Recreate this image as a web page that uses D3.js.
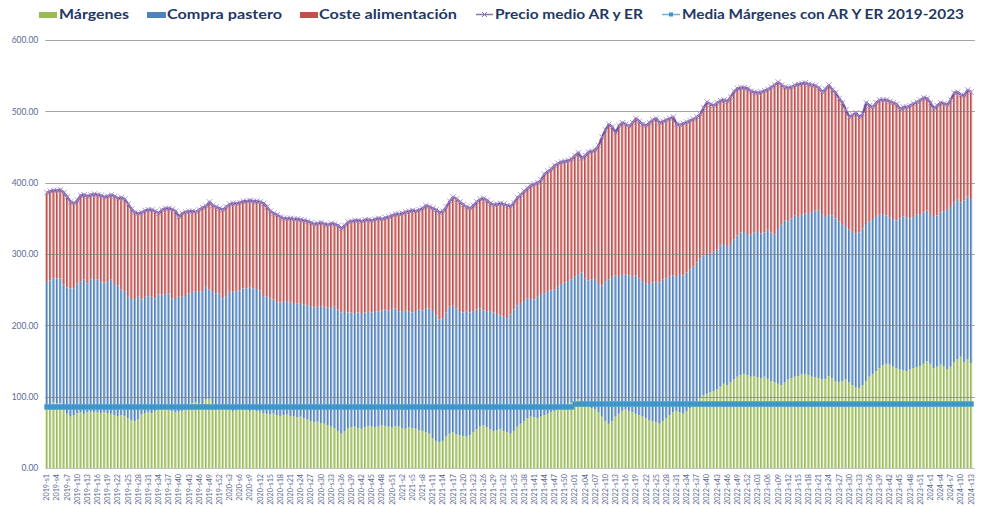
<!DOCTYPE html>
<html>
<head>
<meta charset="utf-8">
<script src="https://cdn.jsdelivr.net/npm/d3@7"></script>
<style>
  html, body { margin: 0; padding: 0; background: #ffffff; }
  svg { display: block; }
</style>
</head>
<body>
<svg id="chart" width="982" height="507"></svg>
<script>
// Weeks per year: [year, number of weeks, zero-padded week label]
const years = [[2019, 52, false], [2020, 52, false], [2021, 52, false], [2022, 52, true], [2023, 53, true], [2024, 13, false]];

// Weekly category labels (2019-s1 ... 2024-s13)
const categories = [];
years.forEach(([yr, n, pad]) => {
  for (let w = 1; w <= n; w++) categories.push(`${yr}-s${pad ? String(w).padStart(2, "0") : w}`);
});

// Precio medio AR y ER (€/t)
const precioMedio = [
  // 2019
  386, 388, 389, 389, 390, 386, 380, 373, 371, 375, 382, 383, 381, 383, 384, 383, 382, 380, 381, 383,
  381, 378, 379, 377, 370, 363, 358, 357, 358, 361, 362, 362, 360, 357, 362, 364, 364, 363, 360, 352,
  357, 359, 360, 360, 359, 362, 365, 367, 373, 368, 366, 364,
  // 2020
  362, 366, 370, 371, 371, 372, 374, 374, 375, 374, 374, 373, 371, 366, 360, 357, 355, 352, 350, 350,
  350, 349, 349, 348, 347, 346, 344, 342, 343, 344, 342, 341, 343, 342, 340, 336, 340, 345, 346, 347,
  347, 346, 348, 348, 347, 349, 350, 349, 351, 352, 354, 356,
  // 2021
  356, 357, 359, 360, 361, 360, 362, 364, 368, 366, 364, 362, 358, 360, 366, 374, 380, 377, 373, 369,
  366, 364, 368, 373, 377, 378, 375, 371, 369, 370, 371, 370, 368, 367, 372, 379, 383, 388, 392, 396,
  398, 400, 404, 412, 416, 419, 424, 427, 429, 430, 431, 433,
  // 2022
  438, 442, 434, 438, 443, 444, 446, 452, 464, 474, 482, 478, 470, 480, 484, 482, 479, 484, 490, 486,
  482, 480, 484, 488, 490, 484, 486, 488, 490, 492, 482, 481, 483, 485, 487, 489, 492, 496, 505, 513,
  510, 508, 512, 515, 516, 514, 520, 528, 532, 533, 533, 532,
  // 2023
  528, 527, 526, 527, 529, 531, 534, 537, 541, 537, 534, 533, 534, 537, 538, 539, 540, 538, 537, 536,
  533, 527, 531, 537, 530, 526, 518, 512, 502, 492, 495, 498, 492, 496, 512, 508, 506, 512, 516, 516,
  516, 514, 512, 510, 503, 506, 506, 508, 511, 513, 516, 519, 518,
  // 2024
  512, 504, 508, 512, 511, 509, 516, 526, 527, 523, 522, 530, 527
];

// Márgenes
const margenes = [
  // 2019
  86, 87, 92, 91, 91, 84, 76, 72, 74, 77, 78, 76, 78, 79, 78, 78, 77, 78, 77, 76,
  74, 73, 74, 73, 70, 67, 66, 68, 75, 77, 78, 77, 80, 82, 83, 84, 83, 80, 78, 79,
  80, 82, 85, 91, 92, 90, 88, 96, 97, 90, 87, 86,
  // 2020
  84, 85, 82, 80, 81, 82, 83, 82, 80, 81, 80, 79, 77, 76, 75, 76, 74, 73, 74, 75,
  73, 72, 71, 72, 70, 68, 66, 64, 65, 63, 62, 60, 58, 56, 52, 48, 52, 56, 57, 58,
  56, 55, 57, 59, 58, 57, 58, 60, 59, 58, 57, 59,
  // 2021
  58, 56, 55, 57, 56, 55, 53, 52, 50, 48, 42, 38, 36, 38, 44, 48, 50, 47, 46, 45,
  44, 46, 50, 54, 58, 60, 57, 54, 52, 53, 55, 52, 50, 48, 52, 58, 62, 66, 70, 72,
  71, 70, 72, 74, 76, 78, 80, 83, 86, 88, 90, 92,
  // 2022
  94, 96, 92, 88, 86, 84, 82, 78, 72, 66, 62, 66, 72, 76, 80, 82, 80, 78, 76, 74,
  72, 70, 67, 66, 64, 62, 66, 70, 74, 78, 80, 78, 76, 80, 84, 88, 94, 98, 102, 104,
  106, 108, 110, 114, 118, 116, 120, 124, 128, 130, 132, 130,
  // 2023
  128, 129, 127, 126, 128, 125, 122, 120, 118, 116, 120, 124, 126, 128, 129, 131, 132, 130, 128, 127,
  126, 124, 125, 129, 126, 122, 120, 122, 124, 120, 116, 113, 112, 116, 122, 128, 132, 136, 140, 144,
  146, 145, 142, 140, 138, 137, 136, 138, 140, 141, 143, 146, 150,
  // 2024
  146, 140, 142, 145, 143, 138, 142, 148, 152, 156, 148, 152, 147
];

// Compra pastero
const compraPastero = [
  // 2019
  175, 176, 174, 175, 175, 173, 177, 180, 178, 182, 184, 188, 181, 185, 187, 186, 185, 182, 184, 188,
  184, 183, 176, 175, 170, 170, 171, 172, 161, 163, 163, 163, 158, 161, 160, 160, 162, 158, 159, 161,
  160, 159, 160, 156, 155, 158, 159, 158, 153, 158, 158, 159,
  // 2020
  154, 155, 165, 167, 167, 167, 169, 170, 173, 171, 171, 170, 164, 164, 163, 160, 159, 159, 159, 159,
  159, 158, 160, 158, 159, 160, 161, 161, 161, 164, 164, 165, 166, 170, 170, 170, 168, 162, 161, 159,
  162, 161, 161, 160, 160, 163, 161, 161, 163, 163, 166, 165,
  // 2021
  161, 164, 166, 162, 162, 165, 169, 169, 173, 176, 178, 176, 172, 172, 174, 178, 178, 177, 174, 173,
  175, 172, 170, 168, 166, 161, 162, 166, 166, 163, 159, 160, 160, 167, 170, 170, 168, 168, 168, 165,
  165, 170, 172, 171, 172, 171, 170, 171, 172, 172, 172, 172,
  // 2022
  174, 176, 182, 178, 177, 180, 183, 180, 184, 196, 202, 202, 198, 192, 192, 189, 190, 190, 194, 192,
  190, 189, 191, 194, 197, 198, 198, 196, 194, 192, 188, 194, 194, 194, 194, 194, 194, 196, 196, 195,
  195, 195, 196, 198, 196, 194, 194, 196, 198, 200, 199, 198,
  // 2023
  199, 201, 204, 203, 202, 209, 208, 207, 217, 225, 227, 222, 224, 226, 223, 224, 225, 226, 231, 234,
  236, 232, 227, 226, 228, 228, 226, 220, 214, 214, 215, 216, 218, 220, 220, 218, 217, 216, 215, 212,
  208, 206, 207, 207, 212, 216, 215, 212, 212, 214, 213, 212, 211,
  // 2024
  210, 212, 212, 213, 217, 224, 224, 224, 224, 216, 227, 229, 230
];

// Coste alimentación: the part of the average price not covered by margin and purchase
const costeAlimentacion = precioMedio.map((p, i) => p - margenes[i] - compraPastero[i]);

// Media Márgenes con AR Y ER 2019-2023 (value applied from the given week onwards)
const mediaMargenes = [
  { desde: "2019-s1", valor: 85.6 },
  { desde: "2022-s01", valor: 89.6 }
];

const yTicks = [0, 100, 200, 300, 400, 500, 600];
const xTickLabels = categories.filter((d, i) => i % 3 === 0);

const series = [
  { key: "Márgenes", values: margenes, color: "#9bbb59" },
  { key: "Compra pastero", values: compraPastero, color: "#4f81bd" },
  { key: "Coste alimentación", values: costeAlimentacion, color: "#c0504d" }
];

const svg = d3.select("#chart");
const plot = { left: 45.3, right: 972.8, top: 40, bottom: 468 };

const x = d3.scaleBand().domain(categories).range([plot.left, plot.right]).paddingInner(0.25).paddingOuter(0.11);
const y = d3.scaleLinear().domain([0, 600]).range([plot.bottom, plot.top]);

// Horizontal gradient fills for the bars (solid left edge, pale right edge)
const defs = svg.append("defs");
series.forEach((s, i) => {
  const g = defs.append("linearGradient").attr("id", "grad" + i)
    .attr("x1", 0).attr("x2", 1).attr("y1", 0).attr("y2", 0);
  const light = d3.interpolateRgb(s.color, "#ffffff")(0.68);
  g.append("stop").attr("offset", 0).attr("stop-color", s.color);
  g.append("stop").attr("offset", 0.3).attr("stop-color", s.color);
  g.append("stop").attr("offset", 1).attr("stop-color", light);
});

// Stacked bars
const rows = categories.map((c, i) => {
  const r = { cat: c };
  series.forEach(s => { r[s.key] = s.values[i]; });
  return r;
});
const stacked = d3.stack().keys(series.map(s => s.key))(rows);

svg.append("g").selectAll("g").data(stacked).join("g")
  .attr("fill", (d, i) => `url(#grad${i})`)
  .selectAll("rect").data(d => d).join("rect")
  .attr("x", d => x(d.data.cat))
  .attr("width", x.bandwidth())
  .attr("y", d => y(d[1]))
  .attr("height", d => y(d[0]) - y(d[1]));

// Gridlines drawn over the bars
svg.append("g").selectAll("line").data(yTicks.filter(t => t > 0)).join("line")
  .attr("x1", plot.left).attr("x2", plot.right + 2)
  .attr("y1", d => Math.round(y(d)) + 0.5).attr("y2", d => Math.round(y(d)) + 0.5)
  .attr("stroke", "#7f7f7f").attr("stroke-opacity", 0.7).attr("stroke-width", 1);

// Baseline
svg.append("line")
  .attr("x1", plot.left).attr("x2", plot.right + 2)
  .attr("y1", Math.round(y(0)) + 0.5).attr("y2", Math.round(y(0)) + 0.5)
  .attr("stroke", "#bfbfbf").attr("stroke-width", 1);

// Y axis labels
const yAxis = d3.axisLeft(y).tickValues(yTicks).tickFormat(d3.format(".2f")).tickSize(0).tickPadding(0);
const yg = svg.append("g").attr("transform", `translate(${plot.left - 7},0)`).call(yAxis);
yg.select(".domain").remove();
yg.selectAll("text").attr("font-family", "Lato, 'Open Sans', sans-serif").attr("font-size", 8.5)
  .attr("fill", "#5b6a93");

// X axis labels (every third week, rotated)
const xAxis = d3.axisBottom(x).tickValues(xTickLabels).tickSize(0).tickPadding(0);
const xg = svg.append("g").attr("transform", `translate(0,${plot.bottom})`).call(xAxis);
xg.select(".domain").remove();
xg.selectAll("text")
  .attr("font-family", "Lato, 'Open Sans', sans-serif").attr("font-size", 7.2)
  .attr("fill", "#5b6a93")
  .attr("text-anchor", "end")
  .attr("transform", "rotate(-90)")
  .attr("x", -6).attr("y", 0).attr("dy", "0.33em");

// Average margin line with square markers
const mediaValue = c => {
  const idx = categories.indexOf(c);
  let v = mediaMargenes[0].valor;
  mediaMargenes.forEach(m => { if (idx >= categories.indexOf(m.desde)) v = m.valor; });
  return v;
};
const cx = c => x(c) + x.bandwidth() / 2;
const mediaColor = "#3b93c6";
svg.append("path").datum(categories)
  .attr("fill", "none").attr("stroke", mediaColor).attr("stroke-width", 2.2)
  .attr("d", d3.line().x(cx).y(c => y(mediaValue(c))));
svg.append("g").selectAll("rect").data(categories).join("rect")
  .attr("x", c => cx(c) - 2.4).attr("y", c => y(mediaValue(c)) - 2.4)
  .attr("width", 4.8).attr("height", 4.8)
  .attr("fill", mediaColor).attr("stroke", "#5aa9d6").attr("stroke-width", 0.5);

// Average price line with x markers
const priceColor = "#6f52a3";
svg.append("path").datum(categories)
  .attr("fill", "none").attr("stroke", priceColor).attr("stroke-width", 2.4)
  .attr("stroke-linejoin", "round")
  .attr("d", d3.line().x(cx).y((c, i) => y(precioMedio[i])));
const mk = 2.8;
svg.append("g").selectAll("path").data(categories).join("path")
  .attr("d", (c, i) => {
    const px = cx(c), py = y(precioMedio[i]);
    return `M${px - mk},${py - mk}L${px + mk},${py + mk}M${px - mk},${py + mk}L${px + mk},${py - mk}`;
  })
  .attr("stroke", "#a893cc").attr("stroke-width", 0.9).attr("fill", "none");

// Legend
const legendFont = "Lato, 'Open Sans', sans-serif";
const legendColor = "#1f3864";
const legend = svg.append("g");
const legendItems = [
  { type: "rect", color: "#9bbb59", sx: 39, sw: 18, label: "Márgenes", tx: 59, tw: 70 },
  { type: "rect", color: "#4f81bd", sx: 147, sw: 19, label: "Compra pastero", tx: 167, tw: 115 },
  { type: "rect", color: "#c0504d", sx: 300, sw: 18, label: "Coste alimentación", tx: 319, tw: 138 },
  { type: "price", color: priceColor, sx: 476, sw: 17, label: "Precio medio AR y ER", tx: 495, tw: 148 },
  { type: "media", color: mediaColor, sx: 662, sw: 18, label: "Media Márgenes con AR Y ER 2019-2023", tx: 682, tw: 282 }
];
legendItems.forEach(it => {
  if (it.type === "rect") {
    legend.append("rect").attr("x", it.sx).attr("y", 12).attr("width", it.sw).attr("height", 6).attr("fill", it.color);
  } else if (it.type === "price") {
    legend.append("line").attr("x1", it.sx).attr("x2", it.sx + it.sw).attr("y1", 14.5).attr("y2", 14.5)
      .attr("stroke", "#8b74b5").attr("stroke-width", 1.5);
    const mx = it.sx + it.sw / 2;
    legend.append("path").attr("d", `M${mx - 2.5},12L${mx + 2.5},17M${mx - 2.5},17L${mx + 2.5},12`)
      .attr("stroke", "#8b74b5").attr("stroke-width", 1);
  } else {
    legend.append("line").attr("x1", it.sx).attr("x2", it.sx + it.sw).attr("y1", 14.5).attr("y2", 14.5)
      .attr("stroke", "#6fb3d9").attr("stroke-width", 1.5);
    const mx = it.sx + it.sw / 2;
    legend.append("rect").attr("x", mx - 2).attr("y", 12.5).attr("width", 4).attr("height", 4).attr("fill", it.color);
  }
  legend.append("text").attr("x", it.tx).attr("y", 18.8)
    .attr("font-family", legendFont).attr("font-weight", 700).attr("font-size", 14)
    .attr("fill", legendColor)
    .attr("textLength", it.tw).attr("lengthAdjust", "spacingAndGlyphs")
    .text(it.label);
});
</script>
</body>
</html>
